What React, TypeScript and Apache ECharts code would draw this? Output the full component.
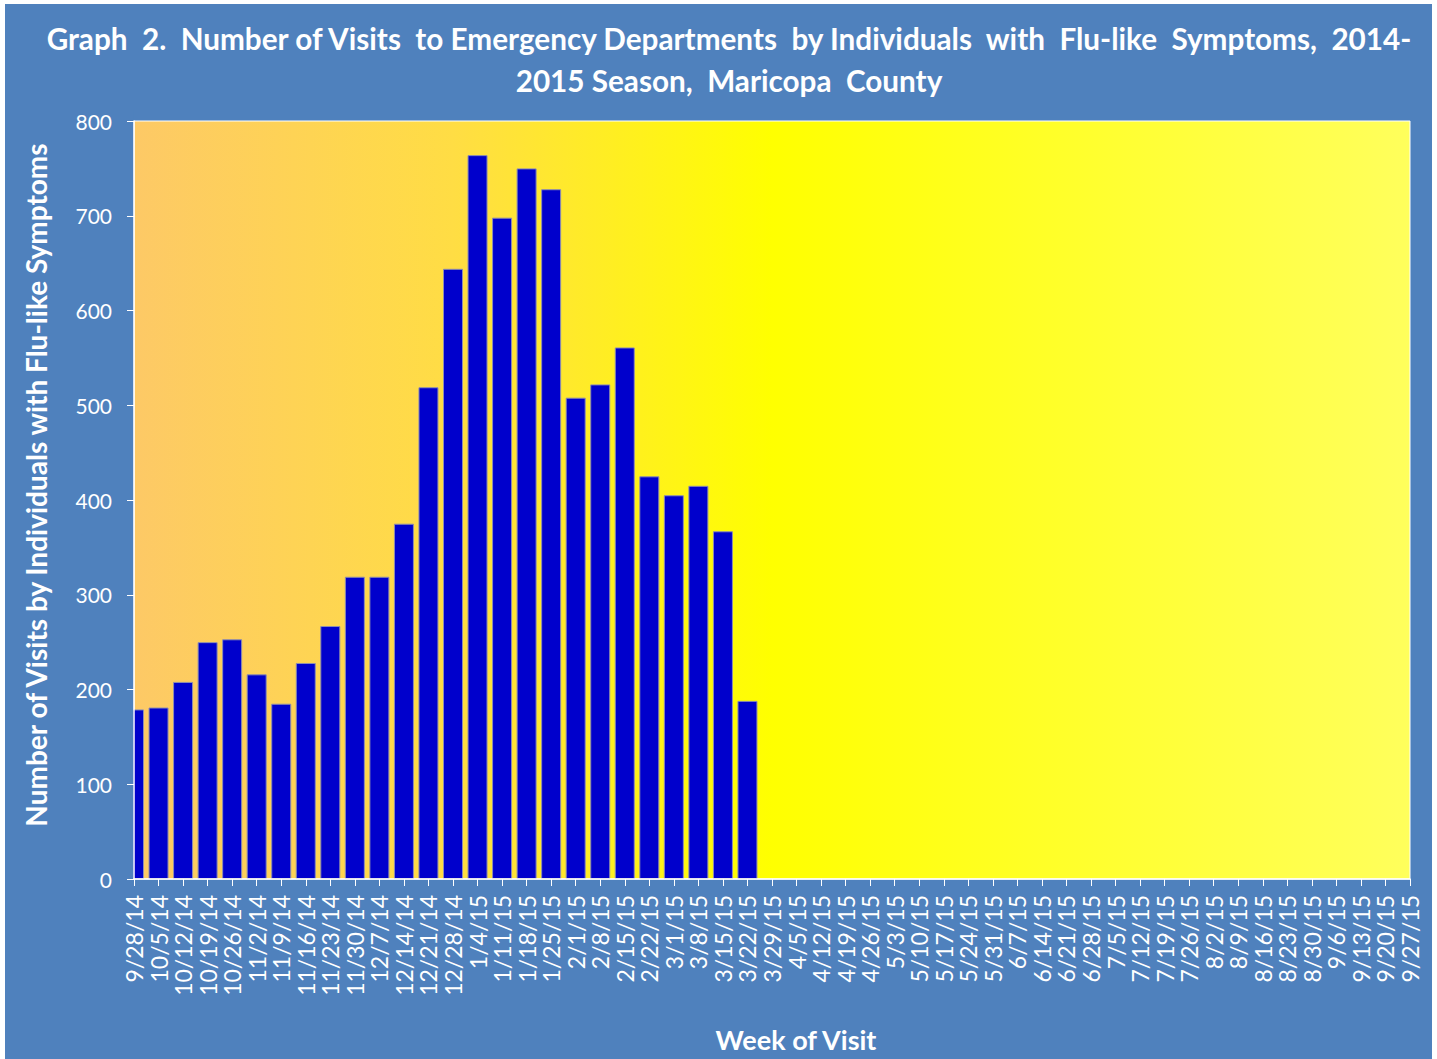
import React, { useEffect, useRef } from "react";
import * as echarts from "echarts";

const weeks = [
  "9/28/14", "10/5/14", "10/12/14", "10/19/14", "10/26/14", "11/2/14", "11/9/14", "11/16/14",
  "11/23/14", "11/30/14", "12/7/14", "12/14/14", "12/21/14", "12/28/14", "1/4/15", "1/11/15",
  "1/18/15", "1/25/15", "2/1/15", "2/8/15", "2/15/15", "2/22/15", "3/1/15", "3/8/15",
  "3/15/15", "3/22/15", "3/29/15", "4/5/15", "4/12/15", "4/19/15", "4/26/15", "5/3/15",
  "5/10/15", "5/17/15", "5/24/15", "5/31/15", "6/7/15", "6/14/15", "6/21/15", "6/28/15",
  "7/5/15", "7/12/15", "7/19/15", "7/26/15", "8/2/15", "8/9/15", "8/16/15", "8/23/15",
  "8/30/15", "9/6/15", "9/13/15", "9/20/15", "9/27/15",
];

const visits = [
  179, 181, 208, 250, 253, 216, 185, 228, 267, 319, 319, 375, 519, 644, 764, 698,
  750, 728, 508, 522, 561, 425, 405, 415, 367, 188,
];

const yTicks = [0, 100, 200, 300, 400, 500, 600, 700, 800];

const FONT = "Lato, 'Open Sans', sans-serif";
const BG = "#4F81BD";

export default function App() {
  const ref = useRef<HTMLDivElement>(null);

  useEffect(() => {
    document.body.style.margin = "0";
    if (!ref.current) return;
    const chart = echarts.init(ref.current, null, { renderer: "svg" });
    chart.setOption({
      animation: false,
      backgroundColor: "#ffffff",
      graphic: [
        {
          type: "rect",
          z: -10,
          silent: true,
          shape: { x: 5, y: 4, width: 1427, height: 1060 },
          style: { fill: BG },
        },
        {
          // hides the part of the first bar that falls left of the plot area
          type: "rect",
          z: 5,
          silent: true,
          shape: { x: 112, y: 110, width: 21.5, height: 770 },
          style: { fill: BG },
        },
      ],
      title: {
        text:
          "Graph  2.  Number of Visits  to Emergency Departments  by Individuals  with  Flu-like  Symptoms,  2014-\n2015 Season,  Maricopa  County",
        left: 724,
        top: 12,
        textAlign: "center",
        textStyle: {
          color: "#ffffff",
          fontFamily: FONT,
          fontWeight: "bold",
          fontSize: 29.7,
          lineHeight: 42,
        },
      },
      grid: {
        left: 134,
        top: 121,
        width: 1276,
        height: 758,
        outerBoundsMode: "none",
        containLabel: false,
        show: true,
        borderColor: "#ffffff",
        borderWidth: 1,
        backgroundColor: {
          type: "linear",
          x: 0,
          y: 0,
          x2: 1,
          y2: 0,
          colorStops: [
            { offset: 0, color: "#FDC966" },
            { offset: 0.25, color: "#FFDD44" },
            { offset: 0.5, color: "#FFFF00" },
            { offset: 1, color: "#FFFF5C" },
          ],
        },
      },
      xAxis: {
        type: "category",
        data: weeks,
        boundaryGap: false,
        z: 10,
        name: "Week of Visit",
        nameLocation: "middle",
        nameGap: 147,
        nameTextStyle: {
          color: "#ffffff",
          fontFamily: FONT,
          fontWeight: "bold",
          fontSize: 27,
          padding: [0, 0, 0, 48],
        },
        axisLine: { show: true, lineStyle: { color: "#ffffff", width: 1.5 } },
        axisTick: { show: true, length: 7, interval: 0, lineStyle: { color: "#ffffff" } },
        axisLabel: {
          interval: 0,
          rotate: 90,
          margin: 16,
          color: "#ffffff",
          fontFamily: FONT,
          fontSize: 23,
        },
        splitLine: { show: false },
      },
      yAxis: {
        type: "value",
        min: 0,
        max: 800,
        interval: 100,
        z: 10,
        name: "Number of Visits by Individuals with Flu-like Symptoms",
        nameLocation: "middle",
        nameGap: 84,
        nameTextStyle: {
          color: "#ffffff",
          fontFamily: FONT,
          fontWeight: "bold",
          fontSize: 28,
          padding: [0, 0, 0, 30],
        },
        axisLine: { show: true, lineStyle: { color: "#ffffff", width: 1.5 } },
        axisTick: { show: true, length: 7, lineStyle: { color: "#ffffff" } },
        axisLabel: {
          margin: 22,
          color: "#ffffff",
          fontFamily: FONT,
          fontSize: 21,
          formatter: (v: number) => (yTicks.includes(v) ? String(v) : ""),
        },
        splitLine: { show: false },
      },
      series: [
        {
          type: "bar",
          data: visits,
          barWidth: 20,
          z: 2,
          itemStyle: {
            color: "#0000CC",
            borderColor: "#8E8EB0",
            borderWidth: 1,
          },
        },
      ],
    });
    return () => chart.dispose();
  }, []);

  return <div ref={ref} style={{ width: 1437, height: 1059 }} />;
}
